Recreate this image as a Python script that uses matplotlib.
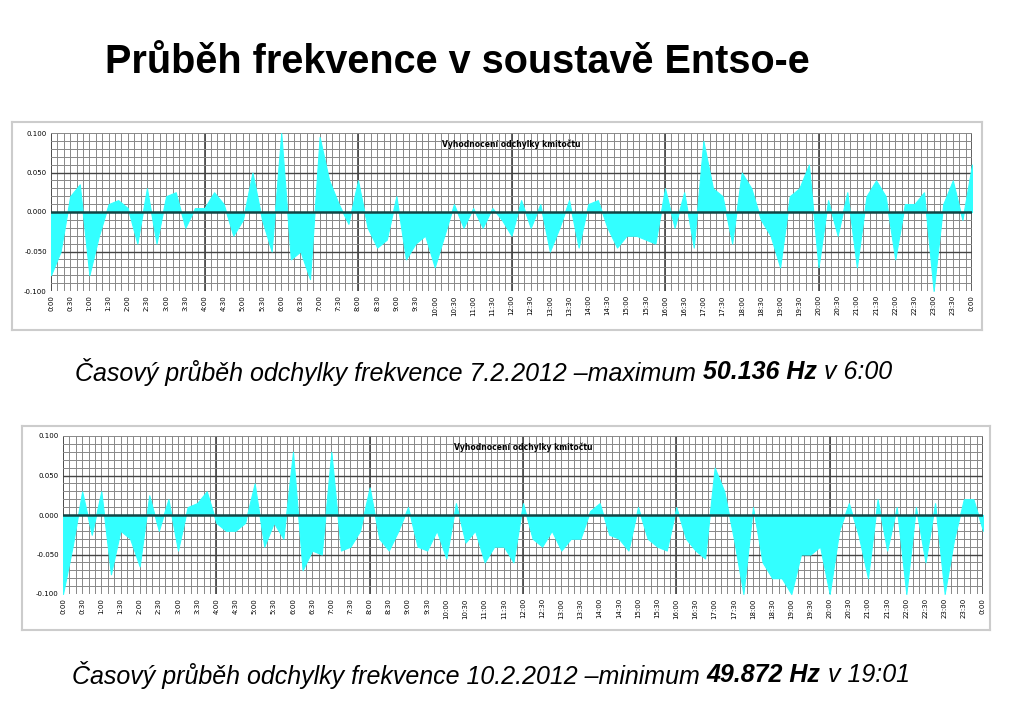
import numpy as np
import matplotlib.pyplot as plt
from matplotlib.ticker import MultipleLocator

# frequency deviation [Hz], 15 min steps, 0:00 .. 24:00
dev_feb07 = [-0.08, -0.05, 0.02, 0.035, -0.08, -0.03, 0.01, 0.015, 0.005, -0.04, 0.03, -0.04,
             0.02, 0.025, -0.02, 0.005, 0.005, 0.025, 0.01, -0.03, -0.01, 0.05, -0.01, -0.05,
             0.1, -0.06, -0.05, -0.085, 0.095, 0.04, 0.01, -0.015, 0.04, -0.02, -0.045, -0.035,
             0.02, -0.06, -0.04, -0.03, -0.07, -0.03, 0.01, -0.02, 0.005, -0.02, 0.005, -0.01,
             -0.03, 0.015, -0.02, 0.01, -0.05, -0.02, 0.015, -0.045, 0.01, 0.015, -0.02, -0.045,
             -0.03, -0.03, -0.035, -0.04, 0.03, -0.02, 0.025, -0.045, 0.09, 0.03, 0.02, -0.04,
             0.05, 0.03, -0.01, -0.03, -0.07, 0.02, 0.03, 0.06, -0.07, 0.015, -0.03, 0.025,
             -0.07, 0.02, 0.04, 0.02, -0.06, 0.01, 0.01, 0.025, -0.1, 0.01, 0.04, -0.01, 0.06]
dev_feb10 = [-0.1, -0.04, 0.03, -0.025, 0.03, -0.075, -0.02, -0.03, -0.065, 0.025, -0.02, 0.02,
             -0.045, 0.01, 0.015, 0.03, -0.01, -0.02, -0.02, -0.01, 0.04, -0.04, -0.01, -0.03,
             0.08, -0.07, -0.045, -0.05, 0.08, -0.045, -0.04, -0.02, 0.035, -0.03, -0.045, -0.02,
             0.01, -0.04, -0.045, -0.02, -0.055, 0.015, -0.035, -0.02, -0.06, -0.04, -0.04, -0.06,
             0.015, -0.03, -0.04, -0.02, -0.045, -0.03, -0.03, 0.005, 0.015, -0.025, -0.03, -0.045,
             0.01, -0.03, -0.04, -0.045, 0.01, -0.03, -0.045, -0.055, 0.06, 0.03, -0.03, -0.1,
             0.01, -0.06, -0.08, -0.08, -0.1, -0.05, -0.05, -0.04, -0.1, -0.02, 0.015, -0.025,
             -0.08, 0.02, -0.045, 0.01, -0.1, 0.01, -0.06, 0.015, -0.1, -0.03, 0.02, 0.02, -0.02]
hours = np.arange(len(dev_feb07)) * 0.25
tick_labels = ['%d:%02d' % ((m // 60) % 24, m % 60) for m in range(0, 24 * 60 + 1, 30)]
yticks = [0.1, 0.05, 0.0, -0.05, -0.1]
chart_title = 'Vyhodnocení odchylky kmitočtu'

fig = plt.figure(figsize=(10.24, 7.25), dpi=100)
W, H = 1024, 725


def px(x0, y0, x1, y1):
    return [x0 / W, 1 - y1 / H, (x1 - x0) / W, (y1 - y0) / H]


def chart(box, area, dev):
    frame = fig.add_axes(px(*box))
    frame.set_xticks([]); frame.set_yticks([])
    for s in frame.spines.values():
        s.set_color('#cccccc'); s.set_linewidth(1.5)
    ax = fig.add_axes(px(*area))
    ax.set_xlim(0, 24); ax.set_ylim(-0.1, 0.1)
    for v in np.arange(0, 24.01, 1 / 6):
        ax.axvline(v, color='#888888', lw=0.7, zorder=0)
    for v in np.arange(0, 24.01, 4):
        ax.axvline(v, color='#444444', lw=1.2, zorder=0)
    for v in np.arange(-0.1, 0.1001, 0.01):
        ax.axhline(v, color='#888888', lw=0.7, zorder=0)
    for v in [-0.05, 0.05]:
        ax.axhline(v, color='#444444', lw=1.0, zorder=0)
    ax.fill_between(hours, 0, dev, color='#33ffff', lw=0.8, edgecolor='#33ffff', zorder=2)
    ax.axhline(0, color='#114444', lw=1.8, zorder=3)
    ax.set_xticks(np.arange(0, 24.01, 0.5))
    ax.set_xticklabels(tick_labels, rotation=90, fontsize=5)
    ax.set_yticks(yticks)
    ax.set_yticklabels(['%.3f' % v for v in yticks], fontsize=5)
    ax.tick_params(length=0, pad=3)
    for s in ax.spines.values():
        s.set_visible(False)
    ax.text(0.5, 0.96, chart_title, transform=ax.transAxes, ha='center',
            va='top', fontsize=5.5, fontweight='bold')


def caption(x, y, parts):
    fig.canvas.draw()
    r = fig.canvas.get_renderer()
    cx = x
    for txt, bold in parts:
        t = fig.text(cx / W, 1 - y / H, txt, fontsize=18, style='italic',
                     fontweight='bold' if bold else 'normal', va='center',
                     family='Liberation Sans')
        cx += t.get_window_extent(r).width


fig.text(105 / W, 1 - 62 / H, 'Průběh frekvence v soustavě Entso-e', fontsize=28.5,
         fontweight='bold', va='center', family='Liberation Sans')
chart((12, 122, 982, 330), (51, 133, 972, 291), dev_feb07)
chart((22, 426, 990, 630), (63, 436, 983, 594), dev_feb10)
caption(75, 372, [('Časový průběh odchylky frekvence 7.2.2012 –maximum ', False),
                  ('50.136 Hz', True), (' v 6:00', False)])
caption(72, 675, [('Časový průběh odchylky frekvence 10.2.2012 –minimum ', False),
                  ('49.872 Hz', True), (' v 19:01', False)])
fig.savefig('out.png', dpi=100)
